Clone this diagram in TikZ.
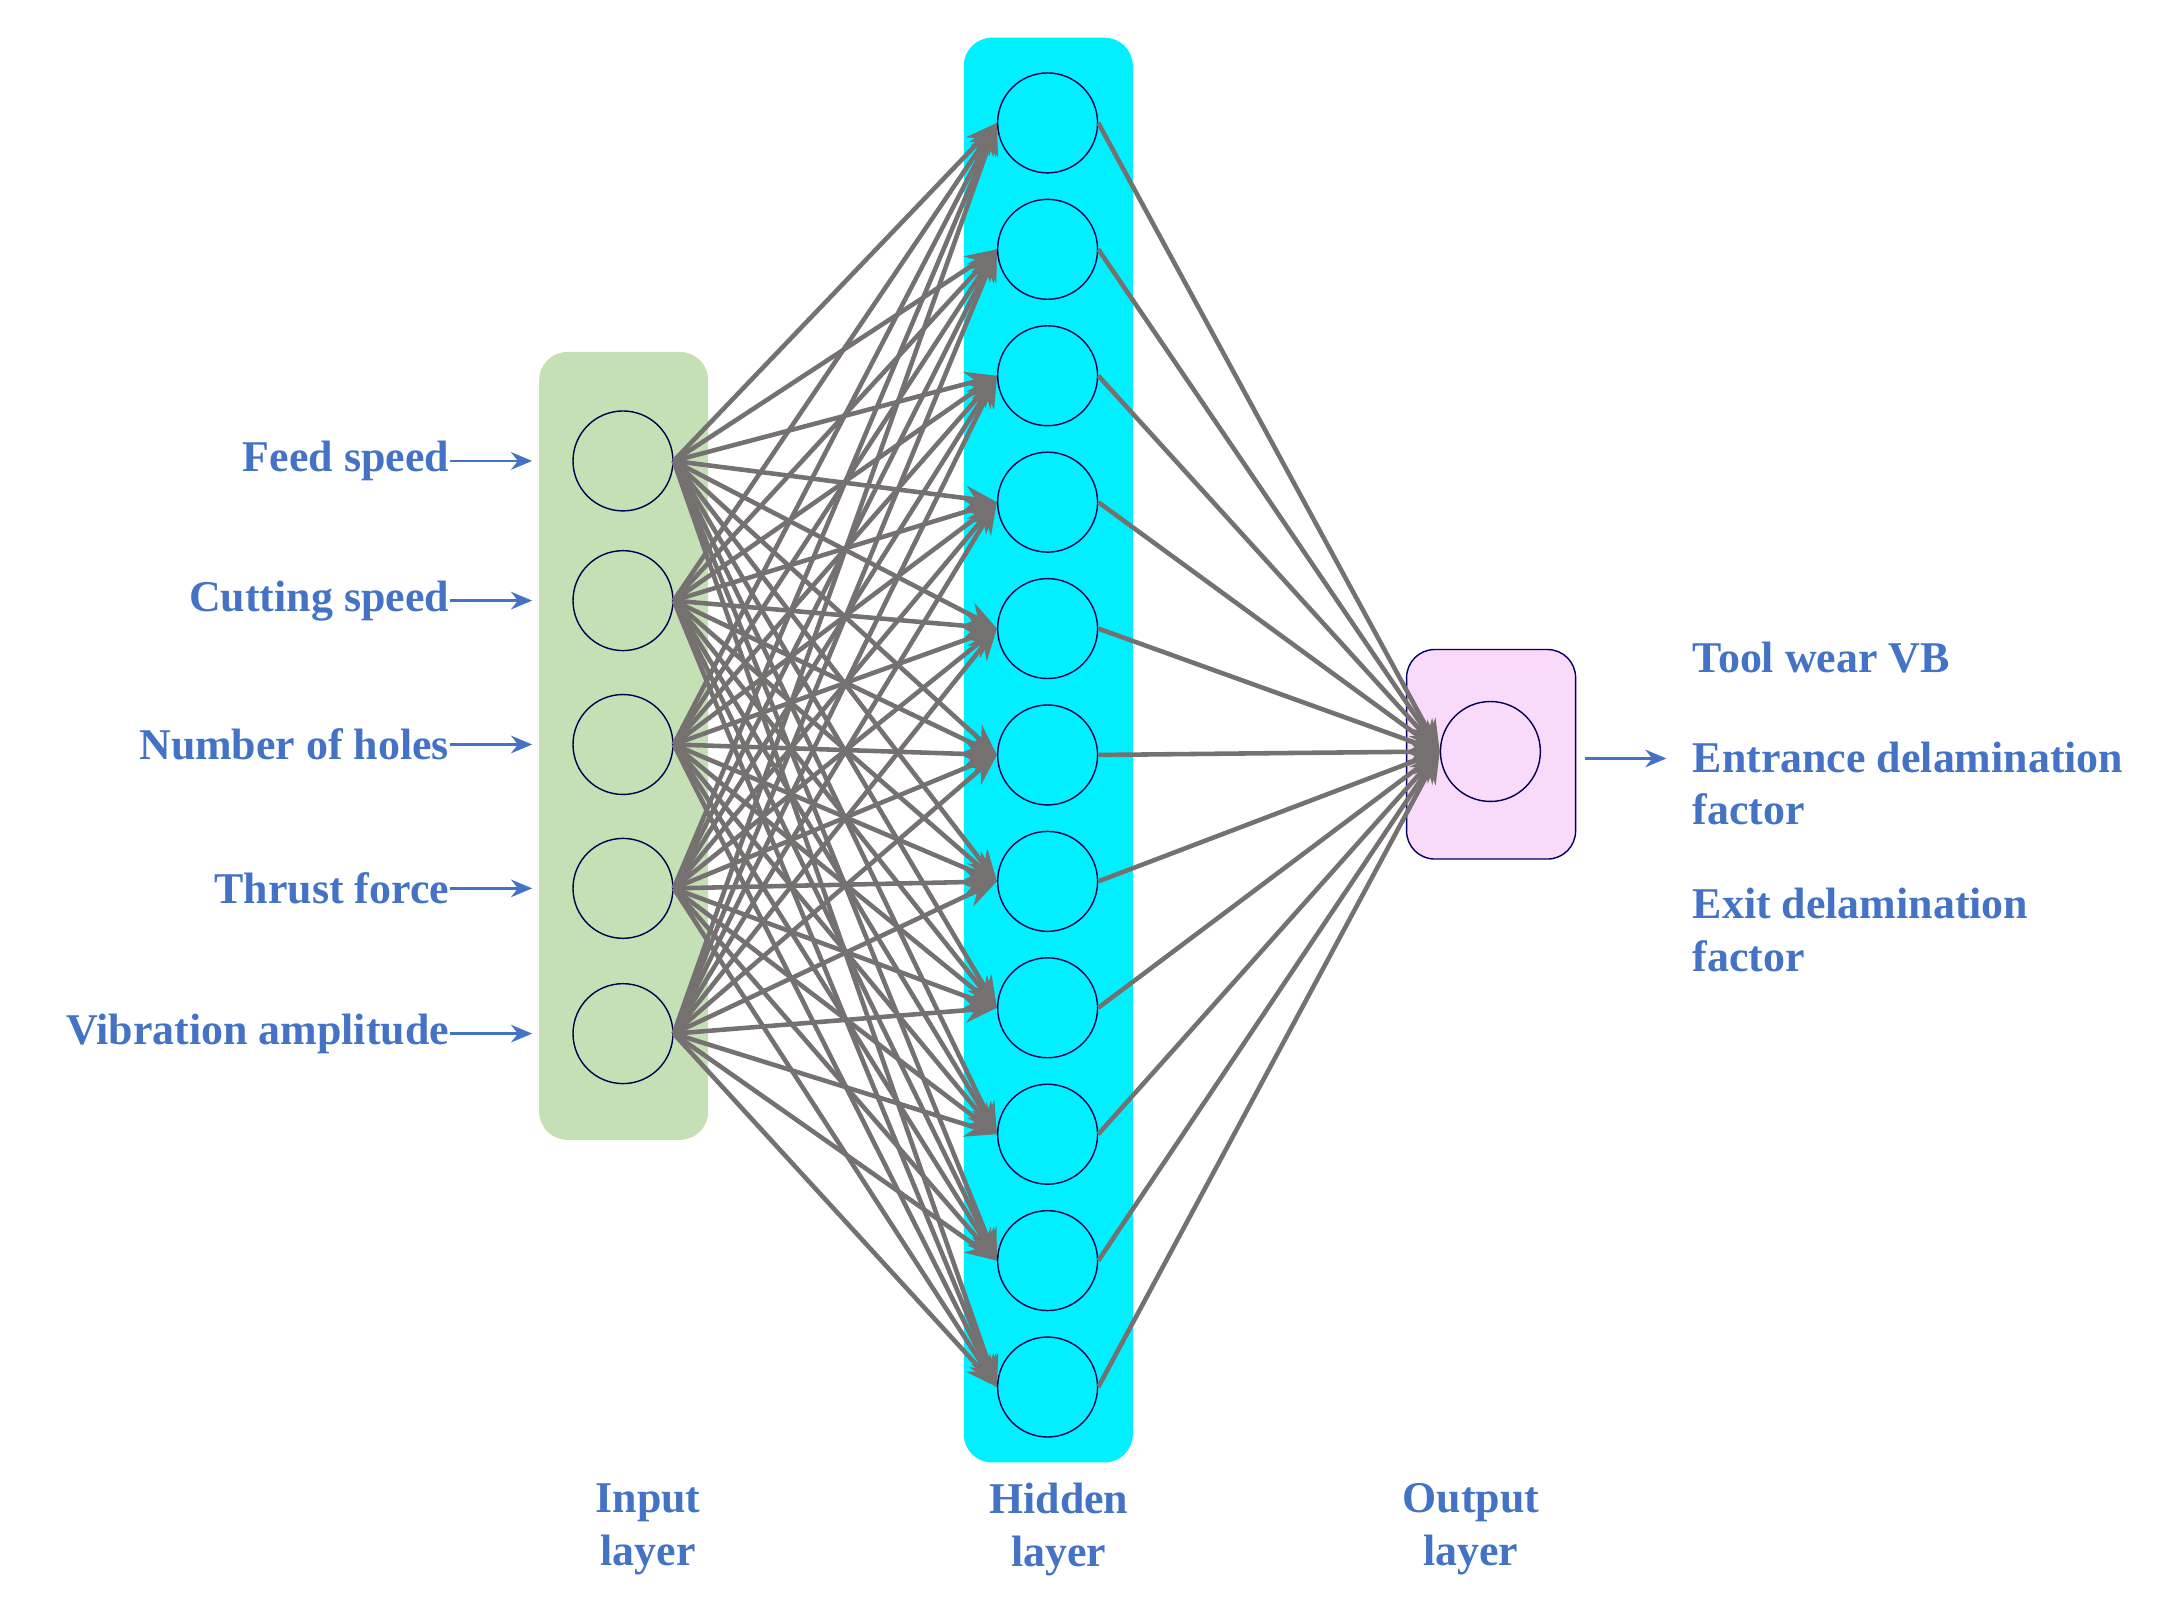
\documentclass[tikz,border=0pt]{standalone}
\usepackage{fontspec}
\setmainfont{Liberation Serif}
\usetikzlibrary{arrows.meta}
\definecolor{txtblue}{RGB}{68,114,196}
\definecolor{ingreen}{RGB}{197,224,180}
\definecolor{hidcyan}{RGB}{0,240,255}
\definecolor{outpink}{RGB}{250,218,250}
\definecolor{linkgray}{RGB}{118,113,113}
\tikzset{
 neuron/.style={circle,draw=black!70!blue,minimum size=1.0cm,inner sep=0pt},
 layerbox/.style={rounded corners=8pt},
 lbl/.style={text=txtblue,font=\fontsize{12.5}{15}\selectfont\bfseries},
 link/.style={draw=linkgray,line width=1.3pt,-{Stealth[length=9pt,width=7pt]}},
 feed/.style={draw=txtblue,line width=0.8pt,-{Stealth[length=6pt,width=5pt]}}
}
\begin{document}
\begin{tikzpicture}[x=0.01397cm,y=-0.01397cm]
 \useasboundingbox (0,0) rectangle (1560,1151);
 % layer boxes
 \fill[ingreen,layerbox] (386,252) rectangle (507,816);
 \fill[hidcyan,layerbox] (690,27) rectangle (811,1047);
 \filldraw[fill=outpink,draw=black!60!blue,layerbox] (1007,465) rectangle (1128,615);
 % neurons
 \foreach \i/\y in {1/330,2/430,3/533,4/636,5/740}
  \node[neuron] (in\i) at (446,\y) {};
 \foreach \i in {1,...,11}
  \node[neuron] (hid\i) at (750,{88+90.5*(\i-1)}) {};
 \node[neuron] (out) at (1067,538) {};
 % connections
 \foreach \i in {1,...,5}
  \foreach \j in {1,...,11}
   \draw[link] (in\i.east) -- (hid\j.west);
 \foreach \j in {1,...,11}
  \draw[link] (hid\j.east) -- (out.west);
 % inputs
 \foreach \i/\t in {1/Feed speed,2/Cutting speed,3/Number of holes,4/Thrust force,5/Vibration amplitude}{
  \node[lbl,anchor=east,inner sep=0pt] (lab\i) at (322,{\pgfkeysvalueof{/pgf/minimum width}}|-in\i) {\t};
 }
 \foreach \i in {1,...,5}
  \draw[feed] (lab\i.east) -- ([xshift=-2pt]in\i.west -| 386,0);
 % outputs
 \coordinate (outend) at (1193,543);
 \draw[feed] (1135,543) -- (outend);
 \node[lbl,anchor=west] (res1) at (1203,471) {Tool wear VB};
 \node[lbl,anchor=west,align=left] (res2) at (1203,561) {Entrance delamination\\factor};
 \node[lbl,anchor=west,align=left] (res3) at (1203,666) {Exit delamination\\factor};
 % layer names
 \node[lbl,align=center] (nin) at (464,1095) {Input\\layer};
 \node[lbl,align=center] (nhid) at (758,1095) {Hidden\\layer};
 \node[lbl,align=center] (nout) at (1053,1095) {Output\\layer};
\end{tikzpicture}
\end{document}
